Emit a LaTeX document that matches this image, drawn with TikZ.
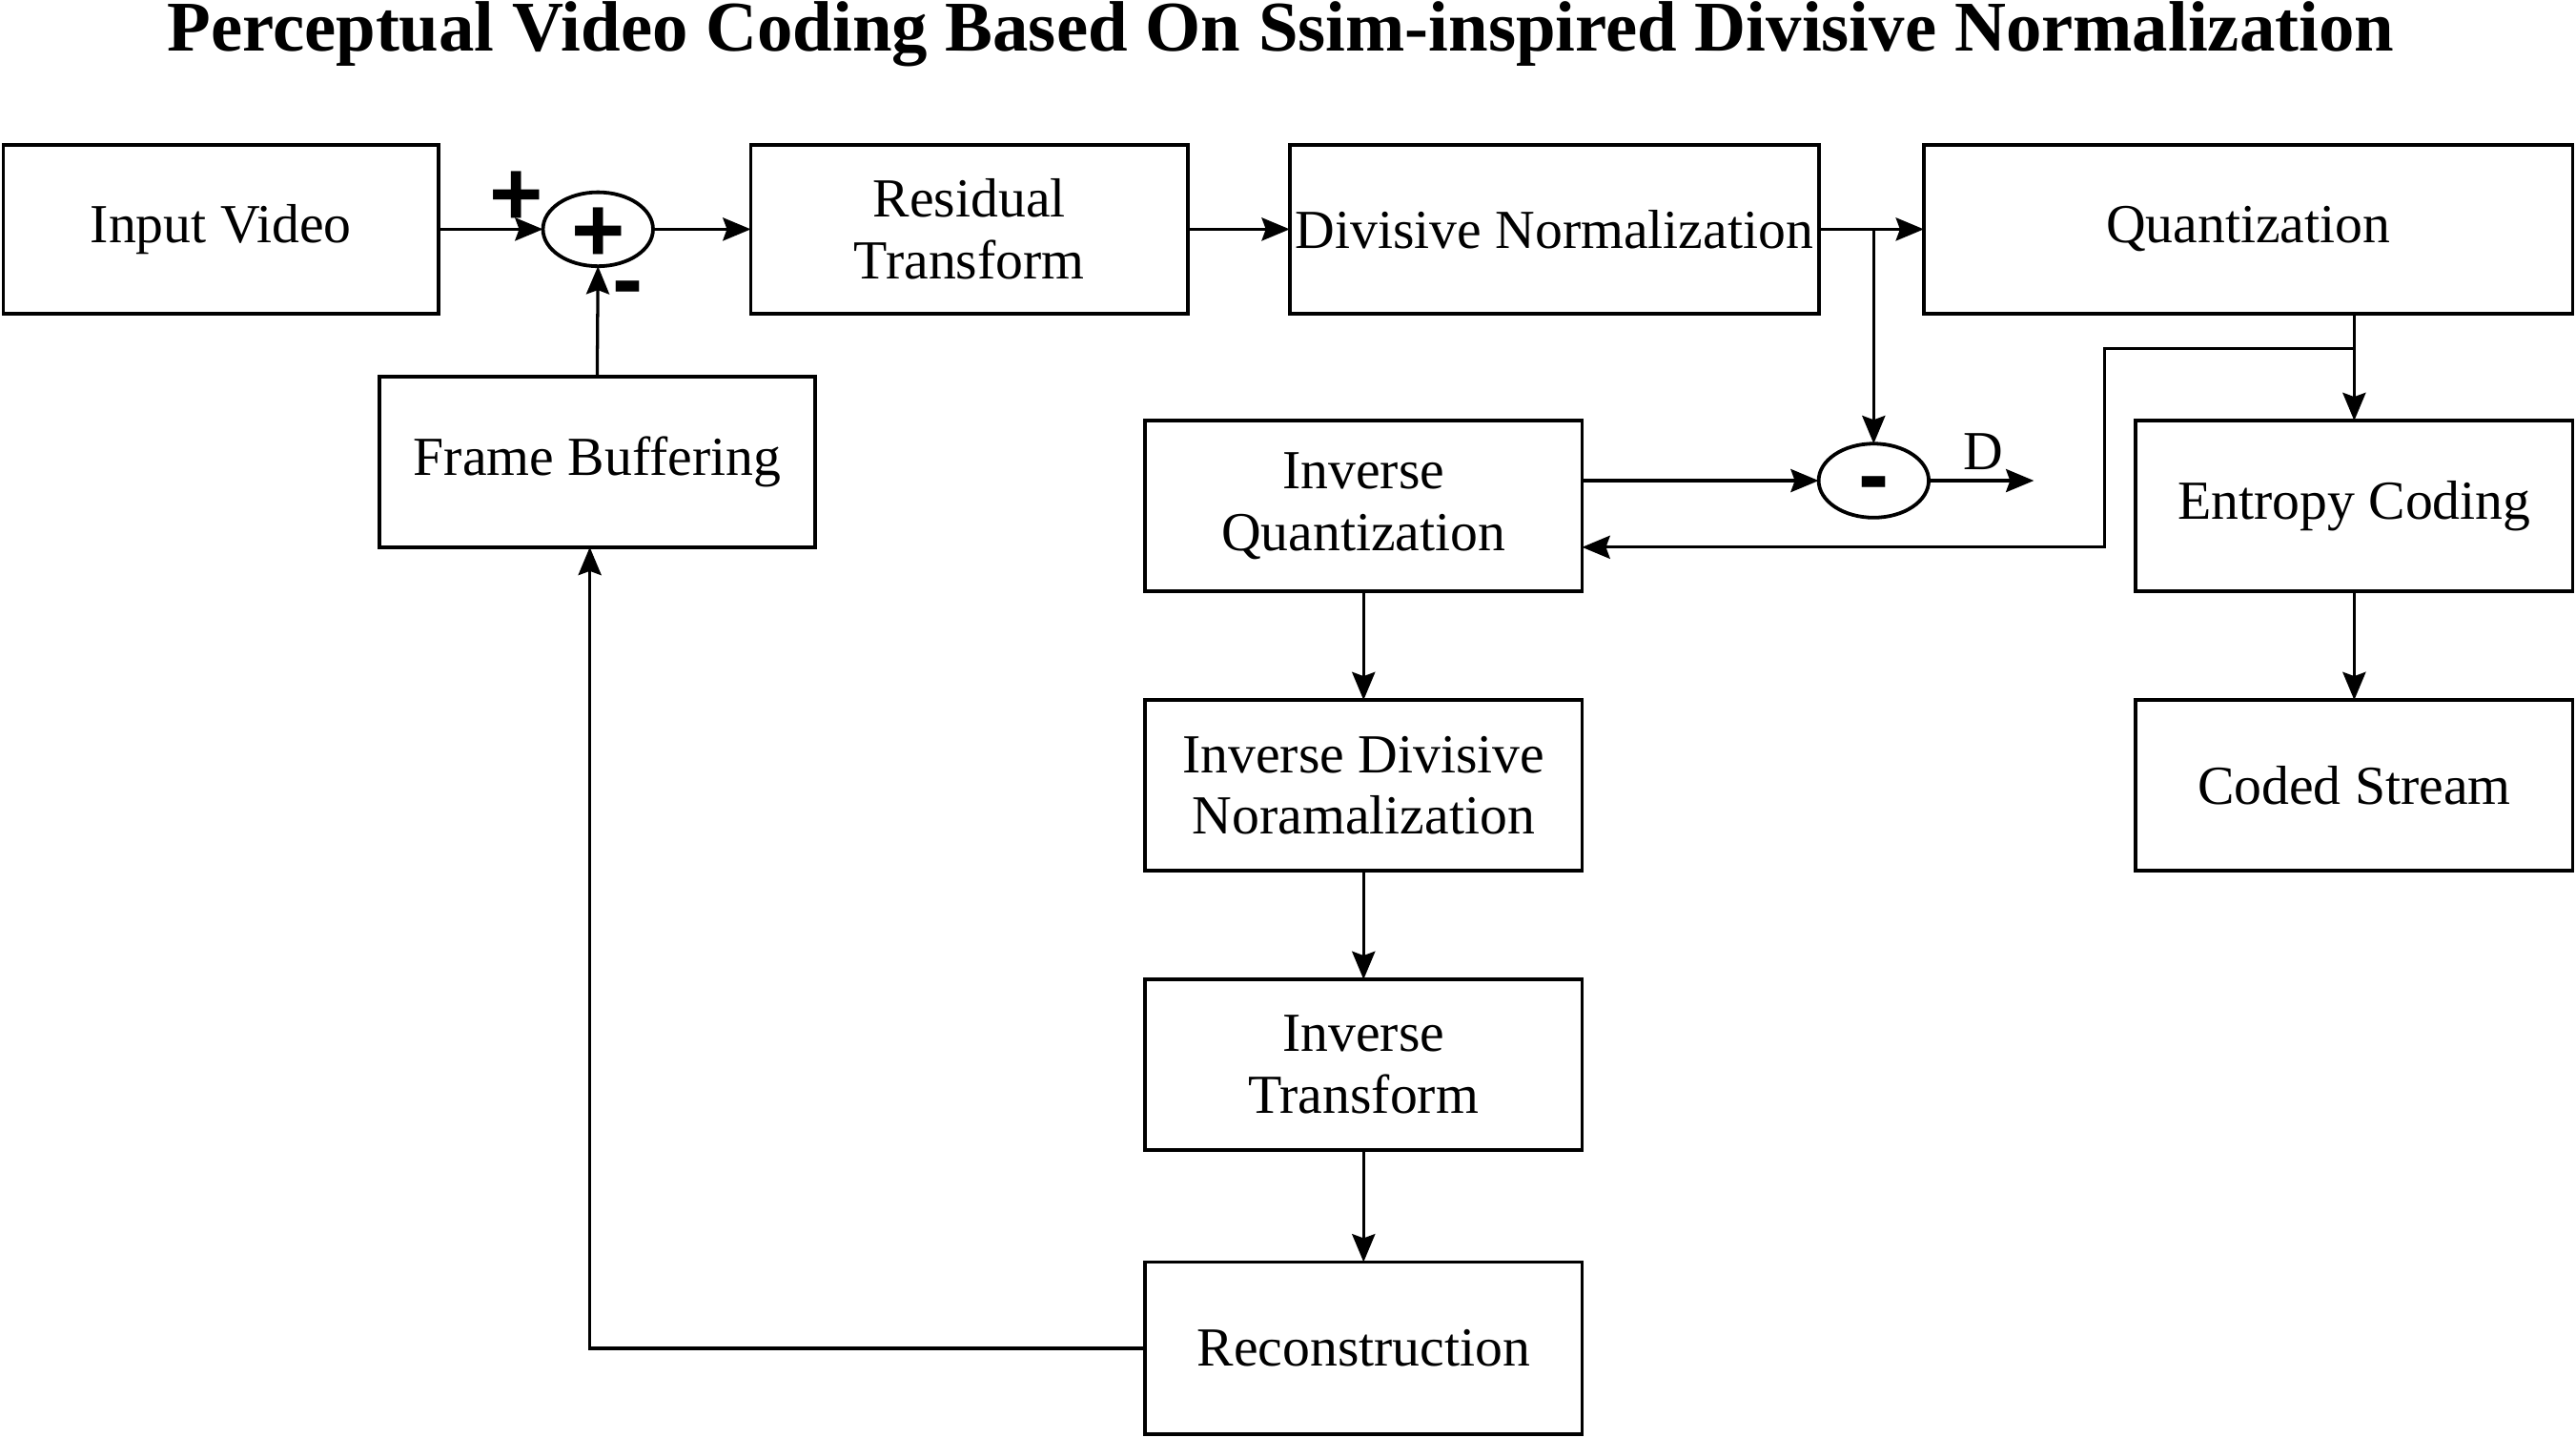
\documentclass[tikz,border=0pt]{standalone}
\usepackage{fontspec}
\setmainfont{Liberation Serif}
\newfontfamily\signfont{Liberation Sans}
\usetikzlibrary{shapes.geometric,arrows.meta}
\begin{document}
\begin{tikzpicture}[x=1pt,y=-1pt,
  blk/.style={draw,line width=2.2pt,rectangle,inner sep=0pt,outer sep=0pt,
    align=center,font=\fontsize{33.5}{37.5}\selectfont},
  junc/.style={draw,line width=2.2pt,ellipse,inner sep=0pt,outer sep=0pt,
    minimum width=67pt,minimum height=45pt},
  sign/.style={font=\signfont\bfseries\fontsize{56}{60}\selectfont,inner sep=0pt},
  conn/.style={line width=1.9pt},
  arr/.style={conn,-{Stealth[length=17pt,width=14pt,inset=2.5pt]}}]
\useasboundingbox (0,0) rectangle (1568,875);
\node[font=\bfseries\fontsize{43.4}{48}\selectfont,inner sep=0pt,anchor=base] (title) at (779.5,31)
  {Perceptual Video Coding Based On Ssim-inspired Divisive Normalization};
\node[blk,minimum width=265pt,minimum height=103pt] (iv) at (134.5,139.5) {Input Video};
\node[junc] (sum) at (364,139.5) {};
\node[sign] (sumplus) at (364,143) {+};
\node[blk,minimum width=266pt,minimum height=103pt] (rt) at (590,139.5) {Residual\\Transform};
\node[blk,minimum width=322pt,minimum height=103pt] (dn) at (946,139.5) {Divisive Normalization};
\node[blk,minimum width=395pt,minimum height=103pt] (q) at (1368.5,139.5) {Quantization};
\node[blk,minimum width=265pt,minimum height=104pt] (fb) at (363.5,281) {Frame Buffering};
\node[blk,minimum width=266pt,minimum height=104pt] (iq) at (830,308) {Inverse\\Quantization};
\node[junc] (mn) at (1140.5,292.5) {};
\node[sign] (mnminus) at (1140.5,299) {-};
\node[blk,minimum width=266pt,minimum height=104pt] (ec) at (1433,308) {Entropy Coding};
\node[blk,minimum width=266pt,minimum height=104pt] (idn) at (830,478) {Inverse Divisive\\Noramalization};
\node[blk,minimum width=266pt,minimum height=104pt] (cs) at (1433,478) {Coded Stream};
\node[blk,minimum width=266pt,minimum height=104pt] (it) at (830,648) {Inverse\\Transform};
\node[blk,minimum width=266pt,minimum height=105pt] (rc) at (830,820.5) {Reconstruction};
% sign labels
\node[sign] (plab) at (314.5,121) {+};
\node[sign] (mlab) at (382,180) {-};
\node[font=\fontsize{33.5}{37.5}\selectfont,inner sep=0pt] (dlab) at (1207,275) {D};
% connectors
\draw[arr] (iv.east) -- (sum.west);
\draw[arr] (sum.east) -- (rt.west);
\draw[arr] (fb.north) -- (sum.south);
\draw[arr] (rt.east) -- (dn.west);
\draw[arr] (dn.east) -- (q.west);
\draw[arr] (dn.east -| mn.north) -- (mn.north);
\draw[arr] (iq.east |- mn.west) -- (mn.west);
\coordinate (dout) at (1238,292.5);
\draw[arr] (mn.east) -- (dout);
\draw[arr] (q.south -| ec.north) -- (ec.north);
\coordinate (jq) at (1433,212);
\coordinate (kq) at (1281,333);
\draw[arr] (jq) -| (kq) -- (kq -| iq.east);
\draw[arr] (iq.south) -- (idn.north);
\draw[arr] (idn.south) -- (it.north);
\draw[arr] (it.south) -- (rc.north);
\draw[arr] (ec.south) -- (cs.north);
\coordinate (fbin) at (359,333);
\draw[arr] (rc.west) -| (fbin);
\end{tikzpicture}
\end{document}
